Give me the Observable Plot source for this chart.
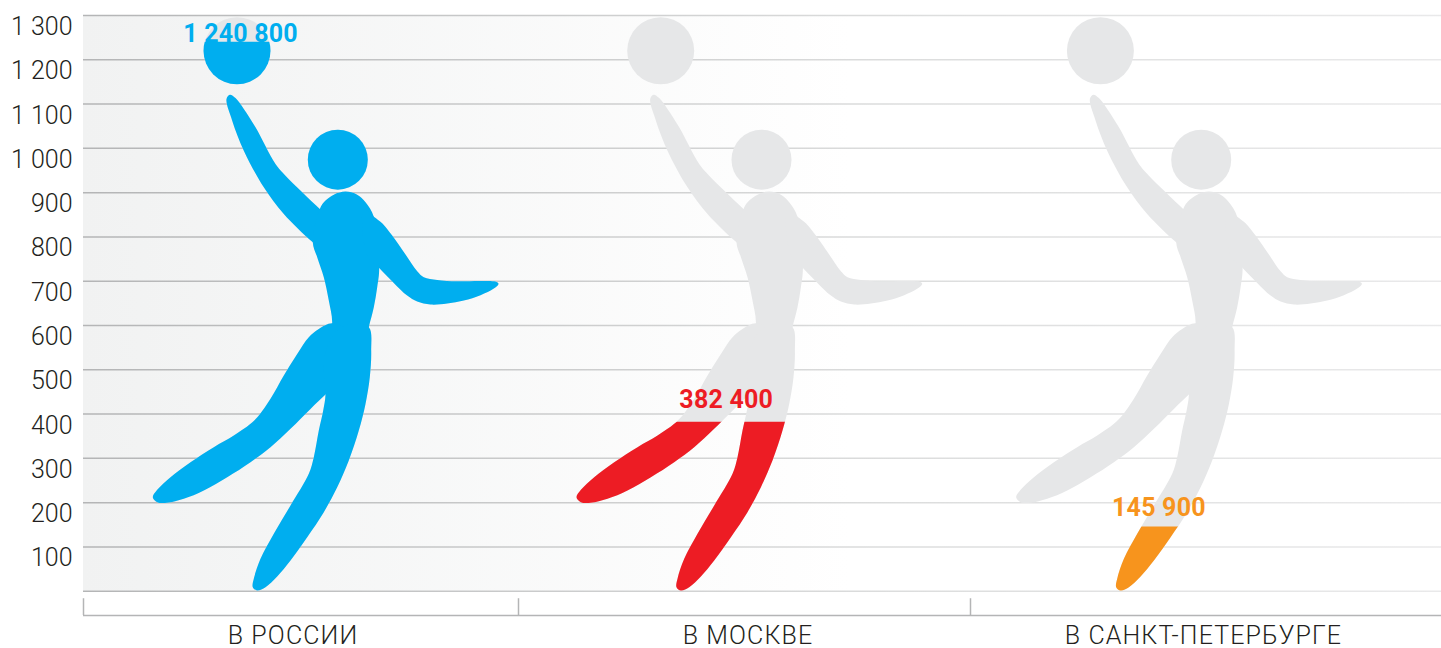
<!DOCTYPE html>
<html><head><meta charset="utf-8">
<style>html,body{margin:0;padding:0;background:#fff;overflow:hidden}svg{display:block}</style>
<script src="https://cdn.jsdelivr.net/npm/d3@7"></script>
<script src="https://cdn.jsdelivr.net/npm/@observablehq/plot@0.6"></script>
</head><body><div id="chart"></div>
<script>
const categories = ["В РОССИИ", "В МОСКВЕ", "В САНКТ-ПЕТЕРБУРГЕ"];
const values = [1240.8, 382.4, 145.9];
const valueLabels = ["1 240 800", "382 400", "145 900"];
const colors = ["#00aeef", "#ed1c24", "#f7941d"];
const yTicks = [100,200,300,400,500,600,700,800,900,1000,1100,1200,1300];
const figureX = [338, 761.7, 1201.4];
const labelDx = [-98, -36, -43];
const labelY = [1259, 432, 189];
const panelEdges = [83, 518, 970, 1441];
const categoryX = [292.5, 747.5, 1203];
const grey = "#e6e7e8";

// silhouette of the player, part by part: [x offset from the head, height on the value axis]
const raisedArm = [[-108.7,1121.2],[-103,1113.7],[-94.7,1088.9],[-83,1047.5],[-63,964.7],[-53,938.4],[-18.7,863.1],[-1.3,825.5],[-4.7,750.3],[-25.7,787.9],[-54.7,851.9],[-74.7,912.1],[-94.7,994.8],[-106.3,1062.5],[-112,1111.4]];
const torso = [[-18.7,863.1],[-13,882],[-4.7,895.5],[7,902.3],[18.7,895.5],[27,878.2],[35.3,845.8],[40.7,730],[38.7,686.3],[35.3,641.2],[30.3,596],[25,540],[-10,540],[-6.3,607.3],[-9.7,656.2],[-14.7,708.9],[-21.3,754.1],[-25.7,787.9]];
const sideArm = [[25.3,863],[35.3,845.8],[43.7,830.8],[53.7,803],[67,760.1],[78.7,722.4],[85.3,708.9],[98.7,702.9],[118.7,699.9],[142,700.6],[157,699.1],[160,693.9],[155.3,683.3],[142,668.3],[125.3,656.2],[108.7,649.5],[92,647.2],[78.7,654],[68.7,667.5],[55.3,696.1],[40.7,730],[28.7,757.8]];
const backLeg = [[-6.3,605],[-19.7,592.3],[-29.7,573.5],[-41.3,535.9],[-54.7,487],[-68,434.3],[-79.7,396.7],[-88,377.9],[-104.7,351.5],[-124.7,325.2],[-148,291.3],[-168,257.5],[-181.3,228.9],[-185.7,212.3],[-181.3,201.1],[-171.3,199.5],[-154.7,208.6],[-134.7,227.4],[-111.3,257.5],[-88,291.3],[-68,325.2],[-48,366.6],[-28,411.7],[-13,444.1],[2,475.7],[8.7,588.5]];
const frontLeg = [[30.3,596],[32.7,543.4],[31.3,483.2],[27,423],[20.3,362.8],[10.3,295.1],[-1.3,234.9],[-14.7,178.5],[-31.3,122],[-48,69.4],[-61.3,33.3],[-73,9.2],[-81.3,1.7],[-85.7,9.2],[-84.7,28],[-78,73.1],[-64.7,129.6],[-48,193.5],[-29.7,265],[-24.7,302.6],[-19.7,362.8],[-15.3,408],[-13,444.1],[-14.7,520.8],[-4.7,581],[12,603.6]];
const bodyParts = [raisedArm, torso, sideArm, backLeg, frontLeg];
const headDx = -0.7, headV = 974.5, headR = 30;
const ballDx = -101.5, ballV = 1220.5, ballR = 33.5;

let clipId = 0;
const clipBelow = (value) => (index, scales, vals, dim, ctx, next) => {
  const g = next(index, scales, vals, dim, ctx);
  const doc = ctx.document, ns = "http://www.w3.org/2000/svg", id = "clip" + (++clipId);
  const cp = doc.createElementNS(ns, "clipPath"); cp.setAttribute("id", id);
  const r = doc.createElementNS(ns, "rect");
  r.setAttribute("x", 0); r.setAttribute("width", dim.width);
  r.setAttribute("y", scales.y(value)); r.setAttribute("height", dim.height);
  cp.appendChild(r); g.appendChild(cp); g.setAttribute("clip-path", `url(#${id})`);
  return g;
};
const spaced = (px) => (index, scales, vals, dim, ctx, next) => {
  const g = next(index, scales, vals, dim, ctx);
  g.setAttribute("letter-spacing", px);
  return g;
};

const figure = (cx, fill, value) => {
  const render = value == null ? undefined : clipBelow(value);
  return [
    ...bodyParts.map(part => Plot.line(part, {x: d => cx + d[0], y: d => d[1], fill, stroke: "none", curve: "catmull-rom-closed", render})),
    Plot.dot([{x: cx + headDx, y: headV}], {x: "x", y: "y", r: headR, fill, stroke: "none", render}),
    Plot.dot([{x: cx + ballDx, y: ballV}], {x: "x", y: "y", r: ballR, fill, stroke: "none", render})
  ];
};

const defs = () => {
  const s = d3.create("svg:defs");
  const a = s.append("linearGradient").attr("id", "bg").attr("gradientUnits", "userSpaceOnUse")
    .attr("x1", 83).attr("x2", 850).attr("y1", 0).attr("y2", 0);
  a.append("stop").attr("offset", 0).attr("stop-color", "#f1f2f2");
  a.append("stop").attr("offset", 1).attr("stop-color", "#ffffff");
  const b = s.append("linearGradient").attr("id", "gl").attr("gradientUnits", "userSpaceOnUse")
    .attr("x1", 83).attr("x2", 1441).attr("y1", 0).attr("y2", 0);
  b.append("stop").attr("offset", 0).attr("stop-color", "#b4b5b6");
  b.append("stop").attr("offset", 0.6).attr("stop-color", "#dcdddd");
  b.append("stop").attr("offset", 1).attr("stop-color", "#e9e9ea");
  return s.node();
};

const font = "Roboto";
const plot = Plot.plot({
  width: 1441, height: 648,
  marginTop: 15, marginBottom: 57.3, marginLeft: 0, marginRight: 0,
  style: {fontFamily: font, background: "transparent", overflow: "visible"},
  x: {domain: [0, 1441], range: [0, 1441], axis: null},
  y: {domain: [0, 1300], axis: null},
  marks: [
    defs,
    Plot.rect([0], {x1: panelEdges[0], x2: panelEdges[3], y1: 0, y2: 1300, fill: "url(#bg)"}),
    Plot.ruleY([0, ...yTicks], {x1: panelEdges[0], x2: panelEdges[3], stroke: "url(#gl)", strokeWidth: 1.5}),
    Plot.axisY({ticks: yTicks, tickSize: 0, tickPadding: 0, anchor: "left", marginLeft: 0, dx: 72, dy: 11.5,
      label: null, fontSize: 25, fontWeight: 300, fill: "#231f20", textAnchor: "end",
      tickFormat: d => d3.format(",")(d).replace(",", " ")}),
    ...figureX.flatMap(cx => figure(cx, grey, null)),
    ...figureX.flatMap((cx, i) => figure(cx, colors[i], values[i])),
    Plot.text(valueLabels, {x: (d, i) => figureX[i] + labelDx[i], y: (d, i) => labelY[i], text: d => d,
      fill: (d, i) => colors[i], fontSize: 25, fontWeight: 700, render: spaced(0.2)}),
    Plot.ruleX(panelEdges.slice(0, 3), {y1: -17, y2: -55, stroke: "#b4b5b6", strokeWidth: 1.5}),
    Plot.ruleY([-55], {x1: panelEdges[0], x2: panelEdges[3], stroke: "#b4b5b6", strokeWidth: 1.5}),
    Plot.text(categories, {x: (d, i) => categoryX[i], y: -101, text: d => d, fontSize: 25, fontWeight: 300, fill: "#231f20", render: spaced(1.1)})
  ]
});
document.getElementById("chart").appendChild(plot);
</script></body></html>
